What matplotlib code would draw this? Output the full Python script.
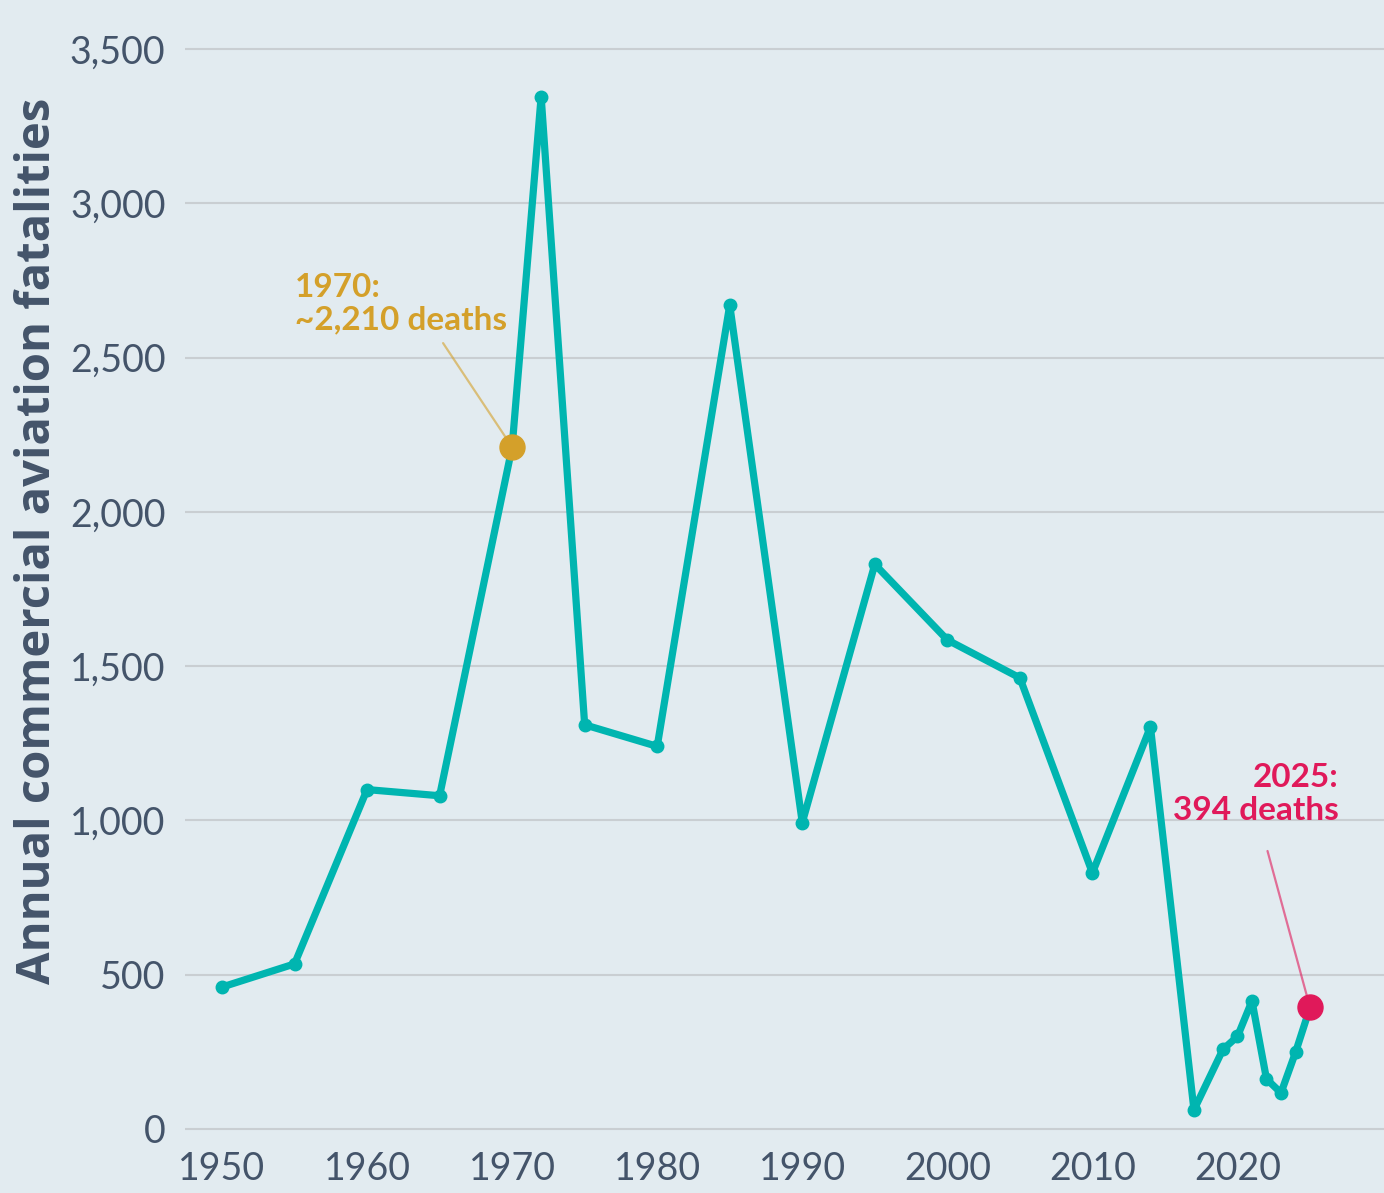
import matplotlib.pyplot as plt

# data
years = [1950, 1955, 1960, 1965, 1970, 1972, 1975, 1980, 1985, 1990, 1995, 2000,
         2005, 2010, 2014, 2017, 2019, 2020, 2021, 2022, 2023, 2024, 2025]
deaths = [460, 535, 1100, 1080, 2210, 3346, 1310, 1240, 2670, 993, 1830, 1585,
          1462, 830, 1303, 62, 258, 300, 415, 162, 117, 248, 394]
yticks = [0, 500, 1000, 1500, 2000, 2500, 3000, 3500]
xticks = [1950, 1960, 1970, 1980, 1990, 2000, 2010, 2020]

bg = '#e2ebf0'
teal = '#00b5b0'
gold = '#d4a02a'
pink = '#e0195a'
txt = '#44546a'
fonts = ['Lato', 'DejaVu Sans']

fig = plt.figure(figsize=(13.84, 11.93), dpi=100, facecolor=bg)
ax = fig.add_axes([185 / 1384, 0.0446, 1199 / 1384, 0.9298], facecolor=bg)

ax.plot(years, deaths, color=teal, lw=5.2, marker='o', ms=9, zorder=3,
        solid_joinstyle='round')

# highlighted points
ax.plot([1970], [2210], 'o', color=gold, ms=18, zorder=4)
ax.plot([2025], [394], 'o', color=pink, ms=18, zorder=4)

# callout text + leader lines
ax.text(1955.0, 2575, '1970:\n~2,210 deaths', color=gold, fontsize=24,
        fontweight='bold', family=fonts, ha='left', va='bottom', linespacing=1.15)
ax.annotate('', xy=(1970, 2210), xytext=(1965.24, 2547),
            arrowprops=dict(arrowstyle='-', color=gold, lw=1.6, alpha=0.6,
                            shrinkA=0, shrinkB=9))
ax.text(2026.97, 985, '2025:\n394 deaths', color=pink, fontsize=24,
        fontweight='bold', family=fonts, ha='right', va='bottom', linespacing=1.15)
ax.annotate('', xy=(2025, 394), xytext=(2022.07, 901),
            arrowprops=dict(arrowstyle='-', color=pink, lw=1.6, alpha=0.6,
                            shrinkA=0, shrinkB=9))

ax.set_xlim(1947.45, 2030.1)
ax.set_ylim(-35, 3560)
ax.set_yticks(yticks)
ax.set_yticklabels([f'{v:,}' for v in yticks])
ax.set_xticks(xticks)
ax.grid(axis='y', color='#c9ced2', lw=1.5)
ax.set_axisbelow(True)
for s in ax.spines.values():
    s.set_visible(False)
ax.tick_params(length=0, labelsize=27, labelcolor=txt)
ax.tick_params(axis='y', pad=14)
ax.tick_params(axis='x', pad=8)
for lab in ax.get_xticklabels() + ax.get_yticklabels():
    lab.set_family(fonts)

fig.text(0.027, 0.547, 'Annual commercial aviation fatalities', rotation=90,
         ha='center', va='center', fontsize=34, fontweight='bold', color=txt,
         family=['Open Sans', 'DejaVu Sans'])

fig.savefig('out.png', dpi=100, facecolor=bg)
